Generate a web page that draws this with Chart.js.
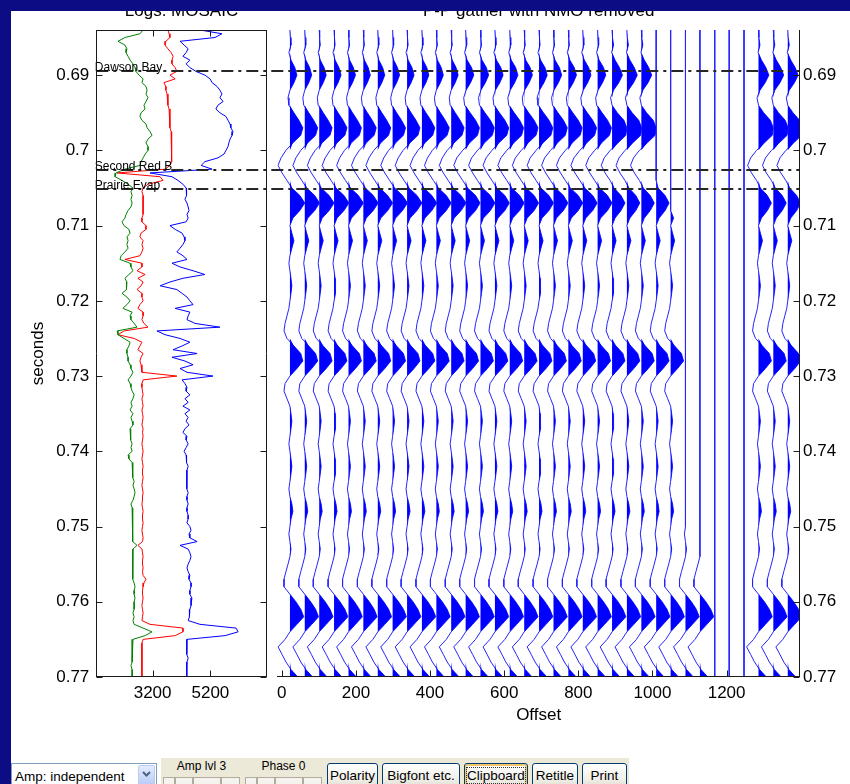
<!DOCTYPE html>
<html>
<head>
<meta charset="utf-8">
<title>P-P gather with NMO removed</title>
<script src="https://cdn.jsdelivr.net/npm/chart.js@4.4.1/dist/chart.umd.min.js"></script>
<style>
  html, body { margin: 0; padding: 0; background: #ffffff; }
  #fig { position: relative; width: 850px; height: 784px; overflow: hidden; background: #ffffff;
         font-family: "Liberation Sans", Arial, Helvetica, sans-serif; }
  #fig canvas { position: absolute; top: 0; }
  #logs { left: 0; }
  #gather { left: 271px; }
  .navy { position: absolute; background: #0c0c84; z-index: 5; }
  .combo { position: absolute; left: 11px; top: 763px; width: 146px; height: 24px; border: 1px solid #7f9db9;
           background: #fff; box-sizing: border-box; font-size: 13.5px; color: #000; }
  .combo span { position: absolute; left: 3px; top: 5px; white-space: nowrap; }
  .combo .drop { position: absolute; right: 1px; top: 1px; width: 17px; height: 22px; border-radius: 2px;
                 background: linear-gradient(#e3ebfd, #b6caf7); border: 1px solid #b9cdf4; box-sizing: border-box; }
  .combo .drop svg { position: absolute; left: 3px; top: 5px; }
  .strip { position: absolute; left: 161px; top: 758px; width: 468px; height: 26px; background: #ece9d8; }
  .panel { position: absolute; top: 758px; height: 26px; background: #ece9d8; font-size: 12px; color: #000; }
  .panel .lab { position: absolute; left: 0; right: 0; top: 1px; text-align: center; white-space: nowrap; }
  .panel .sl { position: absolute; top: 19px; height: 10px; border: 1px solid #b0ad9f; background: #f4f3ee; box-sizing: border-box; }
  .btn { position: absolute; top: 763px; height: 24px; border: 1px solid #003c74; border-radius: 3px;
         background: linear-gradient(#ffffff, #f0efe8 70%, #e3e0d3); box-sizing: border-box; font-size: 13.5px;
         color: #000; text-align: center; white-space: nowrap; padding-top: 4px; }
  .btn.focus { box-shadow: inset 0 0 0 2px #f6c76b; }
  .btn.focus span { outline: 1px dotted #333; outline-offset: 0px; }
</style>
</head>
<body>
<div id="fig">
  <canvas id="logs" width="271" height="740"></canvas>
  <canvas id="gather" width="579" height="740"></canvas>

  <div class="navy" style="left:0;top:0;width:850px;height:11px"></div>
  <div class="navy" style="left:0;top:0;width:11px;height:784px"></div>

  <div class="combo"><span>Amp: independent</span>
    <div class="drop"><svg width="9" height="7" viewBox="0 0 9 7"><path d="M1 1 L4.5 4.5 L8 1" fill="none" stroke="#4d6185" stroke-width="2"/></svg></div>
  </div>
  <div class="strip"></div>
  <div class="panel" style="left:161px;width:81px"><div class="lab">Amp lvl 3</div>
    <div class="sl" style="left:2px;width:12px"></div><div class="sl" style="left:14px;width:18px"></div>
    <div class="sl" style="left:32px;width:28px"></div><div class="sl" style="left:60px;width:19px"></div></div>
  <div class="panel" style="left:243px;width:81px"><div class="lab">Phase 0</div>
    <div class="sl" style="left:2px;width:12px"></div><div class="sl" style="left:14px;width:18px"></div>
    <div class="sl" style="left:32px;width:28px"></div><div class="sl" style="left:60px;width:19px"></div></div>
  <div class="btn" style="left:327px;width:51px"><span>Polarity</span></div>
  <div class="btn" style="left:382px;width:78px"><span>Bigfont etc.</span></div>
  <div class="btn focus" style="left:464px;width:64px"><span>Clipboard</span></div>
  <div class="btn" style="left:532px;width:46px"><span>Retitle</span></div>
  <div class="btn" style="left:582px;width:45px"><span>Print</span></div>
</div>

<script>
// ---------------------------------------------------------------------------
// Data
// ---------------------------------------------------------------------------

// Well-log sample times (ms), 0.5 ms spacing
const logMs = [
  684,684.5,685,685.5,686,686.5,687,687.5,688,688.5,
  689,689.5,690,690.5,691,691.5,692,692.5,693,693.5,
  694,694.5,695,695.5,696,696.5,697,697.5,698,698.5,
  699,699.5,700,700.5,701,701.5,702,702.5,703,703.5,
  704,704.5,705,705.5,706,706.5,707,707.5,708,708.5,
  709,709.5,710,710.5,711,711.5,712,712.5,713,713.5,
  714,714.5,715,715.5,716,716.5,717,717.5,718,718.5,
  719,719.5,720,720.5,721,721.5,722,722.5,723,723.5,
  724,724.5,725,725.5,726,726.5,727,727.5,728,728.5,
  729,729.5,730,730.5,731,731.5,732,732.5,733,733.5,
  734,734.5,735,735.5,736,736.5,737,737.5,738,738.5,
  739,739.5,740,740.5,741,741.5,742,742.5,743,743.5,
  744,744.5,745,745.5,746,746.5,747,747.5,748,748.5,
  749,749.5,750,750.5,751,751.5,752,752.5,753,753.5,
  754,754.5,755,755.5,756,756.5,757,757.5,758,758.5,
  759,759.5,760,760.5,761,761.5,762,762.5,763,763.5,
  764,764.5,765,765.5,766,766.5,767,767.5,768,768.5,
  769,769.5,770
];

const greenLog = [
  2870,2760,2240,2000,2240,2310,2280,2350,2420,2520,
  2590,2620,2730,2870,2830,2970,3010,2970,3040,2970,
  2900,2940,2800,2760,2830,2970,3010,3110,3180,3040,
  2970,3040,3040,2940,2870,2800,2760,2240,1930,1900,
  2140,2350,2520,2450,2490,2450,2490,2450,2350,2280,
  2240,2140,2210,2380,2420,2310,2350,2310,2350,2240,
  2110,2070,2420,2450,2520,2380,2240,2310,2310,2280,
  2140,2310,2420,2310,2170,2490,2420,2450,2560,2660,
  1970,2000,2210,2420,2380,2310,2310,2350,2350,2420,
  2450,2520,2450,2350,2420,2450,2490,2560,2520,2450,
  2490,2420,2520,2450,2490,2520,2420,2450,2420,2450,
  2490,2450,2490,2350,2380,2490,2490,2520,2520,2520,
  2560,2520,2560,2590,2560,2520,2450,2490,2490,2520,
  2520,2520,2490,2520,2520,2490,2520,2660,2520,2520,
  2520,2490,2520,2520,2490,2520,2520,2560,2590,2560,
  2560,2590,2560,2560,2560,2520,2560,2520,2560,2870,
  3180,2940,2520,2490,2490,2490,2490,2490,2490,2450,
  2490,2490,2490
];

const redLog = [
  3730,3770,3800,3660,3630,3730,3840,3910,3870,3870,
  3980,4040,3800,3980,3590,3660,3660,3700,3730,3730,
  3730,3770,3800,3800,3800,3800,3800,3840,3840,3870,
  3840,3870,3870,3870,3870,3840,3800,3630,1970,3460,
  3560,3040,2870,2830,2870,2870,2870,2870,2870,2870,
  2830,2830,2970,2970,2800,2760,2870,2830,2870,2830,
  2760,2240,2830,2830,2660,2940,2690,2870,2800,2660,
  2830,2830,2870,2760,2690,2870,2870,2830,2900,3040,
  2210,2000,2560,2830,2760,2690,2870,2800,2760,2800,
  2830,2830,4040,2870,2830,2830,2850,2870,2830,2850,
  2870,2830,2850,2870,2850,2830,2870,2850,2870,2850,
  2830,2850,2870,2850,2830,2850,2870,2850,2850,2870,
  2850,2830,2850,2870,2850,2850,2830,2850,2870,2850,
  2850,2870,2850,2830,2850,2870,2850,2690,2830,2850,
  2870,2850,2850,2870,2850,2870,2970,2900,2870,2850,
  2850,2870,2850,2830,2850,2870,2850,2830,3110,4250,
  4250,3980,2870,2830,2830,2830,2830,2830,2830,2830,
  2830,2830,2830
];

const blueLog = [
  4840,5600,5360,4150,4290,4430,4360,4250,4490,4360,
  4490,4700,5010,5190,5260,5430,5530,5600,5530,5640,
  5460,5390,5530,5740,5810,5880,5910,5980,5950,5880,
  5840,5810,5740,5670,5460,5010,4880,5260,3110,3870,
  4080,4250,4360,4390,4360,4320,4390,4430,4460,4390,
  4430,4360,3800,3980,4220,4290,4320,4250,4150,4040,
  4250,4390,3870,4150,4600,5010,4250,3800,3460,4040,
  4220,4390,4490,4600,3980,4490,4430,4390,4670,5530,
  3350,3630,4150,4490,4220,3910,4740,3870,4320,4600,
  4150,4390,5290,4220,4320,4390,4360,4490,4320,4430,
  4250,4490,4320,4430,4360,4460,4320,4250,4390,4360,
  4430,4360,4290,4360,4390,4360,4430,4390,4390,4360,
  4390,4390,4390,4430,4390,4390,4430,4390,4390,4430,
  4430,4390,4490,4530,4460,4490,4740,4150,4430,4490,
  4530,4490,4430,4390,4430,4490,4460,4530,4530,4490,
  4490,4560,4530,4530,4490,4490,4460,4430,4840,6090,
  6160,5710,4390,4390,4360,4390,4390,4430,4390,4390,
  4360,4390,4390
];

// Formation tops (s)
const horizonNames = ['Dawson Bay', 'Second Red B', 'Prairie Evap'];
const horizonTimes = [0.6895, 0.7026, 0.7051];

// Axis ticks
const timeTicks = [0.69, 0.70, 0.71, 0.72, 0.73, 0.74, 0.75, 0.76, 0.77];
const timeTickLabels = ['0.69', '0.7', '0.71', '0.72', '0.73', '0.74', '0.75', '0.76', '0.77'];
const logTicks = [3200, 5200];
const logTickLabels = ['3200', '5200'];
const offsetTicks = [0, 200, 400, 600, 800, 1000, 1200];
const offsetTickLabels = ['0', '200', '400', '600', '800', '1000', '1200'];

// Seismic sample times (ms), 1 ms spacing
const sampleMs = [
  684,685,686,687,688,689,690,691,692,693,
  694,695,696,697,698,699,700,701,702,703,
  704,705,706,707,708,709,710,711,712,713,
  714,715,716,717,718,719,720,721,722,723,
  724,725,726,727,728,729,730,731,732,733,
  734,735,736,737,738,739,740,741,742,743,
  744,745,746,747,748,749,750,751,752,753,
  754,755,756,757,758,759,760,761,762,763,
  764,765,766,767,768,769,770
];

// Normalised trace amplitudes (each trace scaled independently)
const nearWave = [
  0,0.03,0.07,-0.07,0.07,0.33,0.47,0.27,0,-0.13,
  -0.07,0.27,0.6,0.87,0.73,0.2,-0.27,-0.6,-0.8,-0.53,
  -0.2,0.13,0.67,1,0.67,0.2,0,0.13,0.27,0.13,
  0,-0.07,0,0.07,0.13,0.07,0,-0.07,-0.2,-0.33,
  -0.4,-0.2,0.27,0.73,0.87,0.47,0,-0.33,-0.4,-0.2,
  0,0.07,0.13,0.07,0,-0.07,0,0.07,0.13,0.07,
  0,-0.07,0,0.13,0.2,0.07,0,-0.07,0,0.07,
  0,-0.13,-0.27,-0.4,-0.4,0,0.4,0.73,0.93,0.47,
  0,-0.33,-0.8,-0.53,-0.27,0.07,0.53
];
const midWave = [
  0,0.03,0.07,-0.07,0.1,0.4,0.55,0.33,0.03,-0.13,
  -0.07,0.3,0.67,0.93,0.8,0.27,-0.2,-0.6,-0.8,-0.53,
  -0.2,0.13,0.67,0.97,0.67,0.2,0,0.13,0.27,0.13,
  0,-0.07,0,0.07,0.13,0.07,0,-0.07,-0.2,-0.33,
  -0.4,-0.2,0.27,0.73,0.87,0.47,0,-0.33,-0.4,-0.2,
  0,0.07,0.13,0.07,0,-0.07,0,0.07,0.13,0.07,
  0,-0.07,0,0.13,0.2,0.07,0,-0.07,0,0.07,
  0,-0.13,-0.27,-0.4,-0.4,0,0.4,0.73,0.93,0.47,
  0,-0.33,-0.8,-0.53,-0.27,0.07,0.53
];
const farWave = [
  0,0.03,0.1,-0.03,0.2,0.5,0.7,0.45,0.1,-0.1,
  0,0.35,0.8,1,0.93,0.4,-0.13,-0.53,-0.73,-0.47,
  -0.13,0.13,0.6,0.87,0.6,0.2,0,0.13,0.27,0.13,
  0,-0.07,0,0.07,0.13,0.07,0,-0.07,-0.2,-0.33,
  -0.4,-0.2,0.27,0.73,0.87,0.47,0,-0.33,-0.4,-0.2,
  0,0.07,0.13,0.07,0,-0.07,0,0.07,0.13,0.07,
  0,-0.07,0,0.13,0.2,0.07,0,-0.07,0,0.07,
  0,-0.13,-0.27,-0.4,-0.4,0,0.4,0.73,0.93,0.47,
  0,-0.33,-0.8,-0.53,-0.27,0.07,0.53
];

// Trace headers: offset (m), which amplitude record, start of live data (ms; null = dead trace)
const traceOffsets = [
  22,62,101,141,180,220,259,299,338,378,
  417,457,496,536,575,615,654,694,733,773,
  812,852,891,931,970,1010,1049,1089,1128,1168,
  1207,1247,1286,1326,1365
];
const traceWaveIndex = [
  0,0,0,0,0,0,0,0,0,0,
  0,0,1,1,1,1,1,1,1,1,
  1,1,2,2,2,2,2,2,2,2,
  2,2,2,2,2
];
const traceLiveFromMs = [
  684,684,684,684,684,684,684,684,684,684,
  684,684,684,684,684,684,684,684,684,684,
  684,684,684,684,684,705,709,750,755,null,
  null,null,684,684,684
];

// ---------------------------------------------------------------------------
// Drawing
// ---------------------------------------------------------------------------
const FONT = '"Liberation Sans", Arial, Helvetica, sans-serif';
const INK = '#1a1a1a';
const TICK_LEN = 6;
const WIGGLE = 40;               // offset units per unit amplitude
const TIME_MIN = 0.684, TIME_MAX = 0.77;

// Box and inward tick marks in the style of the plotting package
function axesFrame(sides) {
  return {
    id: 'axesFrame',
    afterDatasetsDraw(chart) {
      const {ctx, chartArea: a, scales: {x, y}} = chart;
      const L = Math.round(a.left) + 0.5, R = Math.round(a.right) - 0.5;
      const T = Math.round(a.top) + 0.5, B = Math.round(a.bottom) - 0.5;
      ctx.save();
      ctx.strokeStyle = INK;
      ctx.lineWidth = 1;
      ctx.beginPath();
      if (sides.includes('top'))    { ctx.moveTo(L - 0.5, T); ctx.lineTo(R + 0.5, T); }
      if (sides.includes('bottom')) { ctx.moveTo(L - 0.5, B); ctx.lineTo(R + 0.5, B); }
      if (sides.includes('left'))   { ctx.moveTo(L, T - 0.5); ctx.lineTo(L, B + 0.5); }
      if (sides.includes('right'))  { ctx.moveTo(R, T - 0.5); ctx.lineTo(R, B + 0.5); }
      y.ticks.forEach(t => {
        const py = Math.round(y.getPixelForValue(t.value)) + 0.5;
        if (sides.includes('left'))  { ctx.moveTo(L, py); ctx.lineTo(L + TICK_LEN, py); }
        if (sides.includes('right')) { ctx.moveTo(R, py); ctx.lineTo(R - TICK_LEN, py); }
      });
      x.ticks.forEach(t => {
        const px = Math.round(x.getPixelForValue(t.value)) + 0.5;
        if (sides.includes('bottom')) { ctx.moveTo(px, B); ctx.lineTo(px, B - TICK_LEN); }
        if (sides.includes('top'))    { ctx.moveTo(px, T); ctx.lineTo(px, T + TICK_LEN); }
      });
      ctx.stroke();
      ctx.restore();
    }
  };
}

// Dash-dot formation-top lines running across both panels
function horizonLines(mode, dashOffset) {
  return {
    id: 'horizonLines',
    afterDatasetsDraw(chart) {
      const {ctx, chartArea: a, scales: {y}} = chart;
      const x0 = mode === 'logs' ? a.left : 0;
      const x1 = mode === 'logs' ? chart.width : a.right;
      ctx.save();
      ctx.strokeStyle = '#262626';
      ctx.lineWidth = 2;
      ctx.setLineDash([12, 5, 3, 5]);
      ctx.lineDashOffset = dashOffset;
      horizonTimes.forEach(t => {
        const py = Math.round(y.getPixelForValue(t));
        ctx.beginPath();
        ctx.moveTo(x0, py);
        ctx.lineTo(x1, py);
        ctx.stroke();
      });
      if (mode === 'logs') {
        ctx.setLineDash([]);
        ctx.fillStyle = '#000';
        ctx.font = '12px ' + FONT;
        ctx.textBaseline = 'alphabetic';
        ctx.textAlign = 'left';
        horizonNames.forEach((name, i) => {
          ctx.fillText(name, a.left - 1.5, Math.round(y.getPixelForValue(horizonTimes[i])) - 0.5);
        });
      }
      ctx.restore();
    }
  };
}

const tickFont = {family: FONT, size: 17, weight: 'normal'};
const titleFont = {family: FONT, size: 17, weight: 'normal', lineHeight: 1.2};

function timeAxis(position, padding, extra) {
  return Object.assign({
    type: 'linear', position, reverse: true, min: TIME_MIN, max: TIME_MAX,
    grid: {display: false, drawTicks: false, tickLength: 0},
    border: {display: false},
    afterBuildTicks: s => { s.ticks = timeTicks.map(v => ({value: v})); },
    ticks: {callback: (v, i) => timeTickLabels[i], font: tickFont, color: '#000', padding, autoSkip: false}
  }, extra);
}

function valueAxis(min, max, ticks, labels, extra) {
  return Object.assign({
    type: 'linear', position: 'bottom', min, max,
    grid: {display: false, drawTicks: false, tickLength: 0},
    border: {display: false},
    afterBuildTicks: s => { s.ticks = ticks.map(v => ({value: v})); },
    ticks: {callback: (v, i) => labels[i], font: tickFont, color: '#000', padding: 6,
            autoSkip: false, maxRotation: 0, minRotation: 0},
    afterFit: s => { s.height = 63; }
  }, extra);
}

const baseOptions = {
  indexAxis: 'y',
  responsive: false,
  animation: false,
  events: [],
  elements: {point: {radius: 0}, line: {tension: 0}}
};

// ---- Log panel ----
const logPoints = vals => vals.map((v, k) => ({x: v, y: logMs[k] / 1000}));
const logLine = (vals, color) => ({
  data: logPoints(vals), borderColor: color, borderWidth: 1, fill: false, pointRadius: 0
});

new Chart(document.getElementById('logs'), {
  type: 'line',
  data: {datasets: [logLine(greenLog, '#008000'), logLine(redLog, '#ff0000'), logLine(blueLog, '#0000ff')]},
  options: Object.assign({}, baseOptions, {
    layout: {padding: {top: 1, left: 0, right: 4.3, bottom: 0}},
    plugins: {
      legend: {display: false}, tooltip: {enabled: false},
      title: {display: true, text: 'Logs: MOSAIC', fullSize: false, color: '#000', font: titleFont,
              padding: {top: 0, bottom: 8.6}}
    },
    scales: {
      x: valueAxis(1250, 7150, logTicks, logTickLabels, {}),
      y: timeAxis('left', 7, {
        title: {display: true, text: 'seconds', color: '#000', font: titleFont, padding: {top: 28.5, bottom: 0}},
        afterFit: s => { s.width = 96.3; }
      })
    }
  }),
  plugins: [horizonLines('logs', 0), axesFrame(['left', 'right', 'top', 'bottom'])]
});

// ---- Gather panel ----
const waves = [nearWave, midWave, farWave];
const traceSets = [];
traceOffsets.forEach((base, i) => {
  const wave = waves[traceWaveIndex[i]];
  const liveFrom = traceLiveFromMs[i];
  const amp = sampleMs.map((ms, j) => (liveFrom !== null && ms >= liveFrom) ? wave[j] : 0);
  // positive lobes shaded against the trace baseline
  traceSets.push({
    data: amp.map((a, j) => ({x: base + WIGGLE * Math.max(a, 0), y: sampleMs[j] / 1000})),
    borderColor: 'rgba(0,0,0,0)', borderWidth: 0, backgroundColor: '#0000ff',
    fill: {target: {value: base}}, pointRadius: 0
  });
  // the wiggle itself
  traceSets.push({
    data: amp.map((a, j) => ({x: base + WIGGLE * a, y: sampleMs[j] / 1000})),
    borderColor: '#2424ff', borderWidth: 1, fill: false, pointRadius: 0
  });
});

new Chart(document.getElementById('gather'), {
  type: 'line',
  data: {datasets: traceSets},
  options: Object.assign({}, baseOptions, {
    layout: {padding: {top: 1, left: 3, right: 0, bottom: 0}},
    plugins: {
      legend: {display: false}, tooltip: {enabled: false},
      title: {display: true, text: 'P-P gather with NMO removed', fullSize: false, color: '#000', font: titleFont,
              padding: {top: 0, bottom: 8.6}}
    },
    scales: {
      x: valueAxis(-12, 1398, offsetTicks, offsetTickLabels, {
        title: {display: true, text: 'Offset', color: '#000', font: titleFont, padding: {top: 0, bottom: 14.1}}
      }),
      y: timeAxis('right', 3, {afterFit: s => { s.width = 50; }})
    }
  }),
  plugins: [horizonLines('gather', 271 - 96.3), axesFrame(['right', 'bottom'])]
});
</script>
</body>
</html>
